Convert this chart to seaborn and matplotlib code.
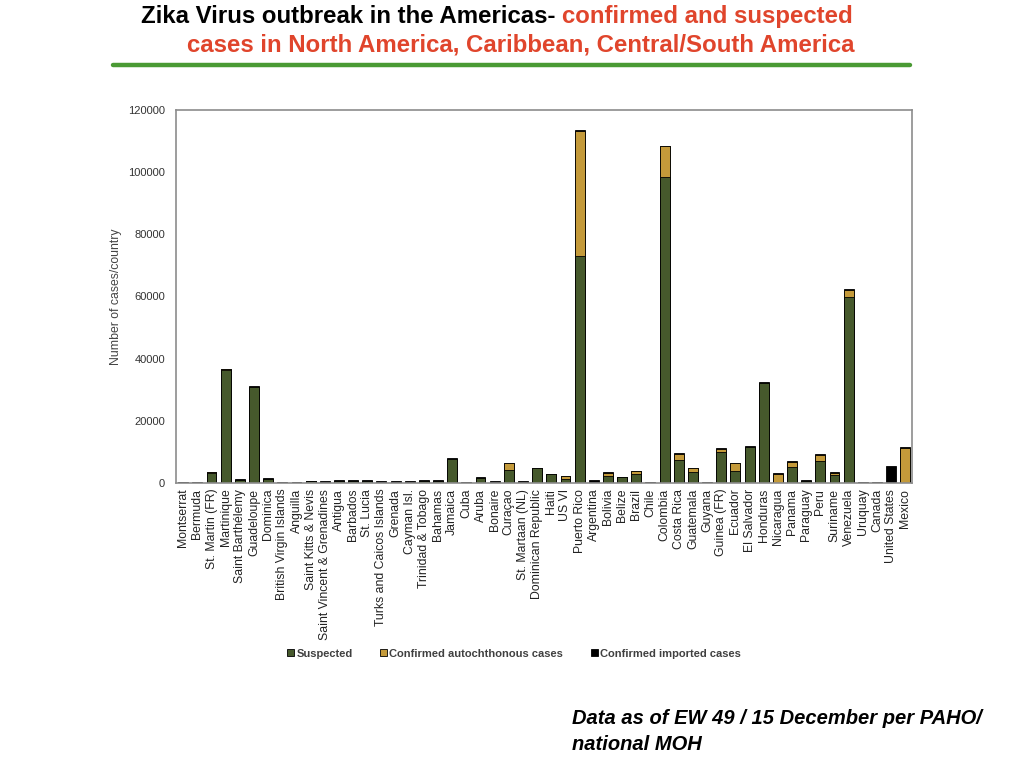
import matplotlib
matplotlib.use("Agg")
import matplotlib.pyplot as plt
from matplotlib.patches import Patch
import pandas as pd
import seaborn as sns


COUNTRIES = [
    "Montserrat", "Bermuda", "St. Martin (FR)", "Martinique", "Saint Barthélemy",
    "Guadeloupe", "Dominica", "British Virgin Islands", "Anguilla",
    "Saint Kitts & Nevis", "Saint Vincent & Grenadines", "Antigua", "Barbados",
    "St. Lucia", "Turks and Caicos Islands", "Grenada", "Cayman Isl.",
    "Trinidad & Tobago", "Bahamas", "Jamaica", "Cuba", "Aruba", "Bonaire",
    "Curaçao", "St. Martaan (NL)", "Dominican Republic", "Haiti", "US VI",
    "Puerto Rico", "Argentina", "Bolivia", "Belize", "Brazil", "Chile",
    "Colombia", "Costa Rica", "Guatemala", "Guyana", "Guinea (FR)", "Ecuador",
    "El Salvador", "Honduras", "Nicaragua", "Panama", "Paraguay", "Peru",
    "Suriname", "Venezuela", "Uruquay", "Canada", "United States", "Mexico",
]
SUSPECTED = [
    150, 0, 3300, 36500, 1000, 30800, 1400, 150, 150, 600, 400, 700, 600,
    600, 400, 400, 500, 600, 700, 7700, 100, 1600, 400, 4100, 400, 4900,
    2900, 1200, 72900, 500, 2300, 1900, 2800, 0, 98500, 7400, 3400, 100,
    10100, 3800, 11700, 32200, 0, 5200, 600, 7200, 2700, 59800, 0, 0, 0, 0,
]
CONFIRMED = [
    0, 0, 100, 100, 0, 200, 0, 0, 0, 0, 0, 0, 0, 0, 0, 0, 0, 200, 0, 0, 0,
    0, 0, 2200, 0, 0, 0, 1100, 40400, 0, 1000, 0, 1000, 0, 9900, 2000, 1300,
    0, 800, 2500, 0, 0, 2800, 1600, 0, 1800, 600, 2300, 0, 0, 0, 11200,
]
IMPORTED = [
    100, 200, 100, 100, 200, 100, 100, 150, 150, 200, 200, 300, 300, 300, 200,
    200, 200, 100, 300, 200, 200, 300, 200, 0, 200, 100, 100, 100, 300, 400,
    300, 100, 200, 250, 0, 300, 200, 250, 300, 300, 200, 200, 300, 300, 300,
    300, 200, 300, 250, 250, 5400, 300,
]
Y_TICKS = [0, 20000, 40000, 60000, 80000, 100000, 120000]

GREEN = "#46592c"
GOLD = "#c49a3a"
RED = "#e0452c"


def main():
    df = pd.DataFrame({
        "country": COUNTRIES,
        "suspected": SUSPECTED,
        "confirmed": CONFIRMED,
        "imported": IMPORTED,
    })
    # cumulative layers, drawn from the tallest down
    df["layer_conf"] = df["suspected"] + df["confirmed"]
    df["total"] = df["layer_conf"] + df["imported"]

    sns.set_style("white")
    plt.rcParams["font.family"] = ["Liberation Sans", "DejaVu Sans"]

    fig = plt.figure(figsize=(10.24, 7.68), dpi=100)
    ax = fig.add_axes([0.172, 0.371, 0.719, 0.486])

    bar_kw = dict(x="country", order=COUNTRIES, width=0.7, saturation=1,
                  edgecolor="black", linewidth=0.6, ax=ax, errorbar=None)
    sns.barplot(data=df, y="total", color="black", **bar_kw)
    sns.barplot(data=df, y="layer_conf", color=GOLD, **bar_kw)
    sns.barplot(data=df, y="suspected", color=GREEN, **bar_kw)

    ax.set_ylim(0, 120000)
    ax.set_yticks(Y_TICKS)
    ax.set_yticklabels([str(t) for t in Y_TICKS], fontsize=8, color="#333333")
    ax.set_xlim(-0.5, len(COUNTRIES) - 0.5)
    ax.tick_params(axis="x", labelrotation=90, labelsize=8.8, colors="#222222",
                   length=0, pad=4)
    ax.tick_params(axis="y", length=0, pad=8)
    ax.set_xlabel("")
    ax.set_ylabel("Number of cases/country", fontsize=8.8, color="#444444",
                  labelpad=4)
    for spine in ax.spines.values():
        spine.set_color("#8c8c8c")
        spine.set_linewidth(1.2)

    handles = [
        Patch(facecolor=GREEN, edgecolor="black", linewidth=0.6, label="Suspected"),
        Patch(facecolor=GOLD, edgecolor="black", linewidth=0.6,
              label="Confirmed autochthonous cases"),
        Patch(facecolor="black", edgecolor="black", linewidth=0.6,
              label="Confirmed imported cases"),
    ]
    leg = fig.legend(handles=handles, loc="center", bbox_to_anchor=(0.502, 0.149),
                     ncol=3, frameon=False, fontsize=8, handlelength=0.6,
                     handleheight=0.6, handletextpad=0.2, columnspacing=2.5)
    for txt in leg.get_texts():
        txt.set_color("#404040")
        txt.set_fontweight("bold")

    # title, first line in two colours
    t1 = fig.text(0.138, 0.978, "Zika Virus outbreak in the Americas- ",
                  fontsize=17.3, fontweight="bold", color="black",
                  ha="left", va="center")
    ax.annotate("confirmed and suspected", xy=(1, 0), xycoords=t1,
                fontsize=17.3, fontweight="bold", color=RED,
                ha="left", va="bottom", annotation_clip=False)
    fig.text(0.509, 0.941, "cases in North America, Caribbean, Central/South America",
             fontsize=17.3, fontweight="bold", color=RED, ha="center", va="center")
    fig.add_artist(plt.Line2D([0.110, 0.889], [0.916, 0.916], color="#4a9a34",
                              linewidth=3.2, transform=fig.transFigure))

    fig.text(0.559, 0.048, "Data as of EW 49 / 15 December per PAHO/\nnational MOH",
             fontsize=14.5, fontweight="bold", fontstyle="italic", color="black",
             ha="left", va="center", linespacing=1.45)

    fig.savefig("out.png", dpi=100)


if __name__ == "__main__":
    main()
